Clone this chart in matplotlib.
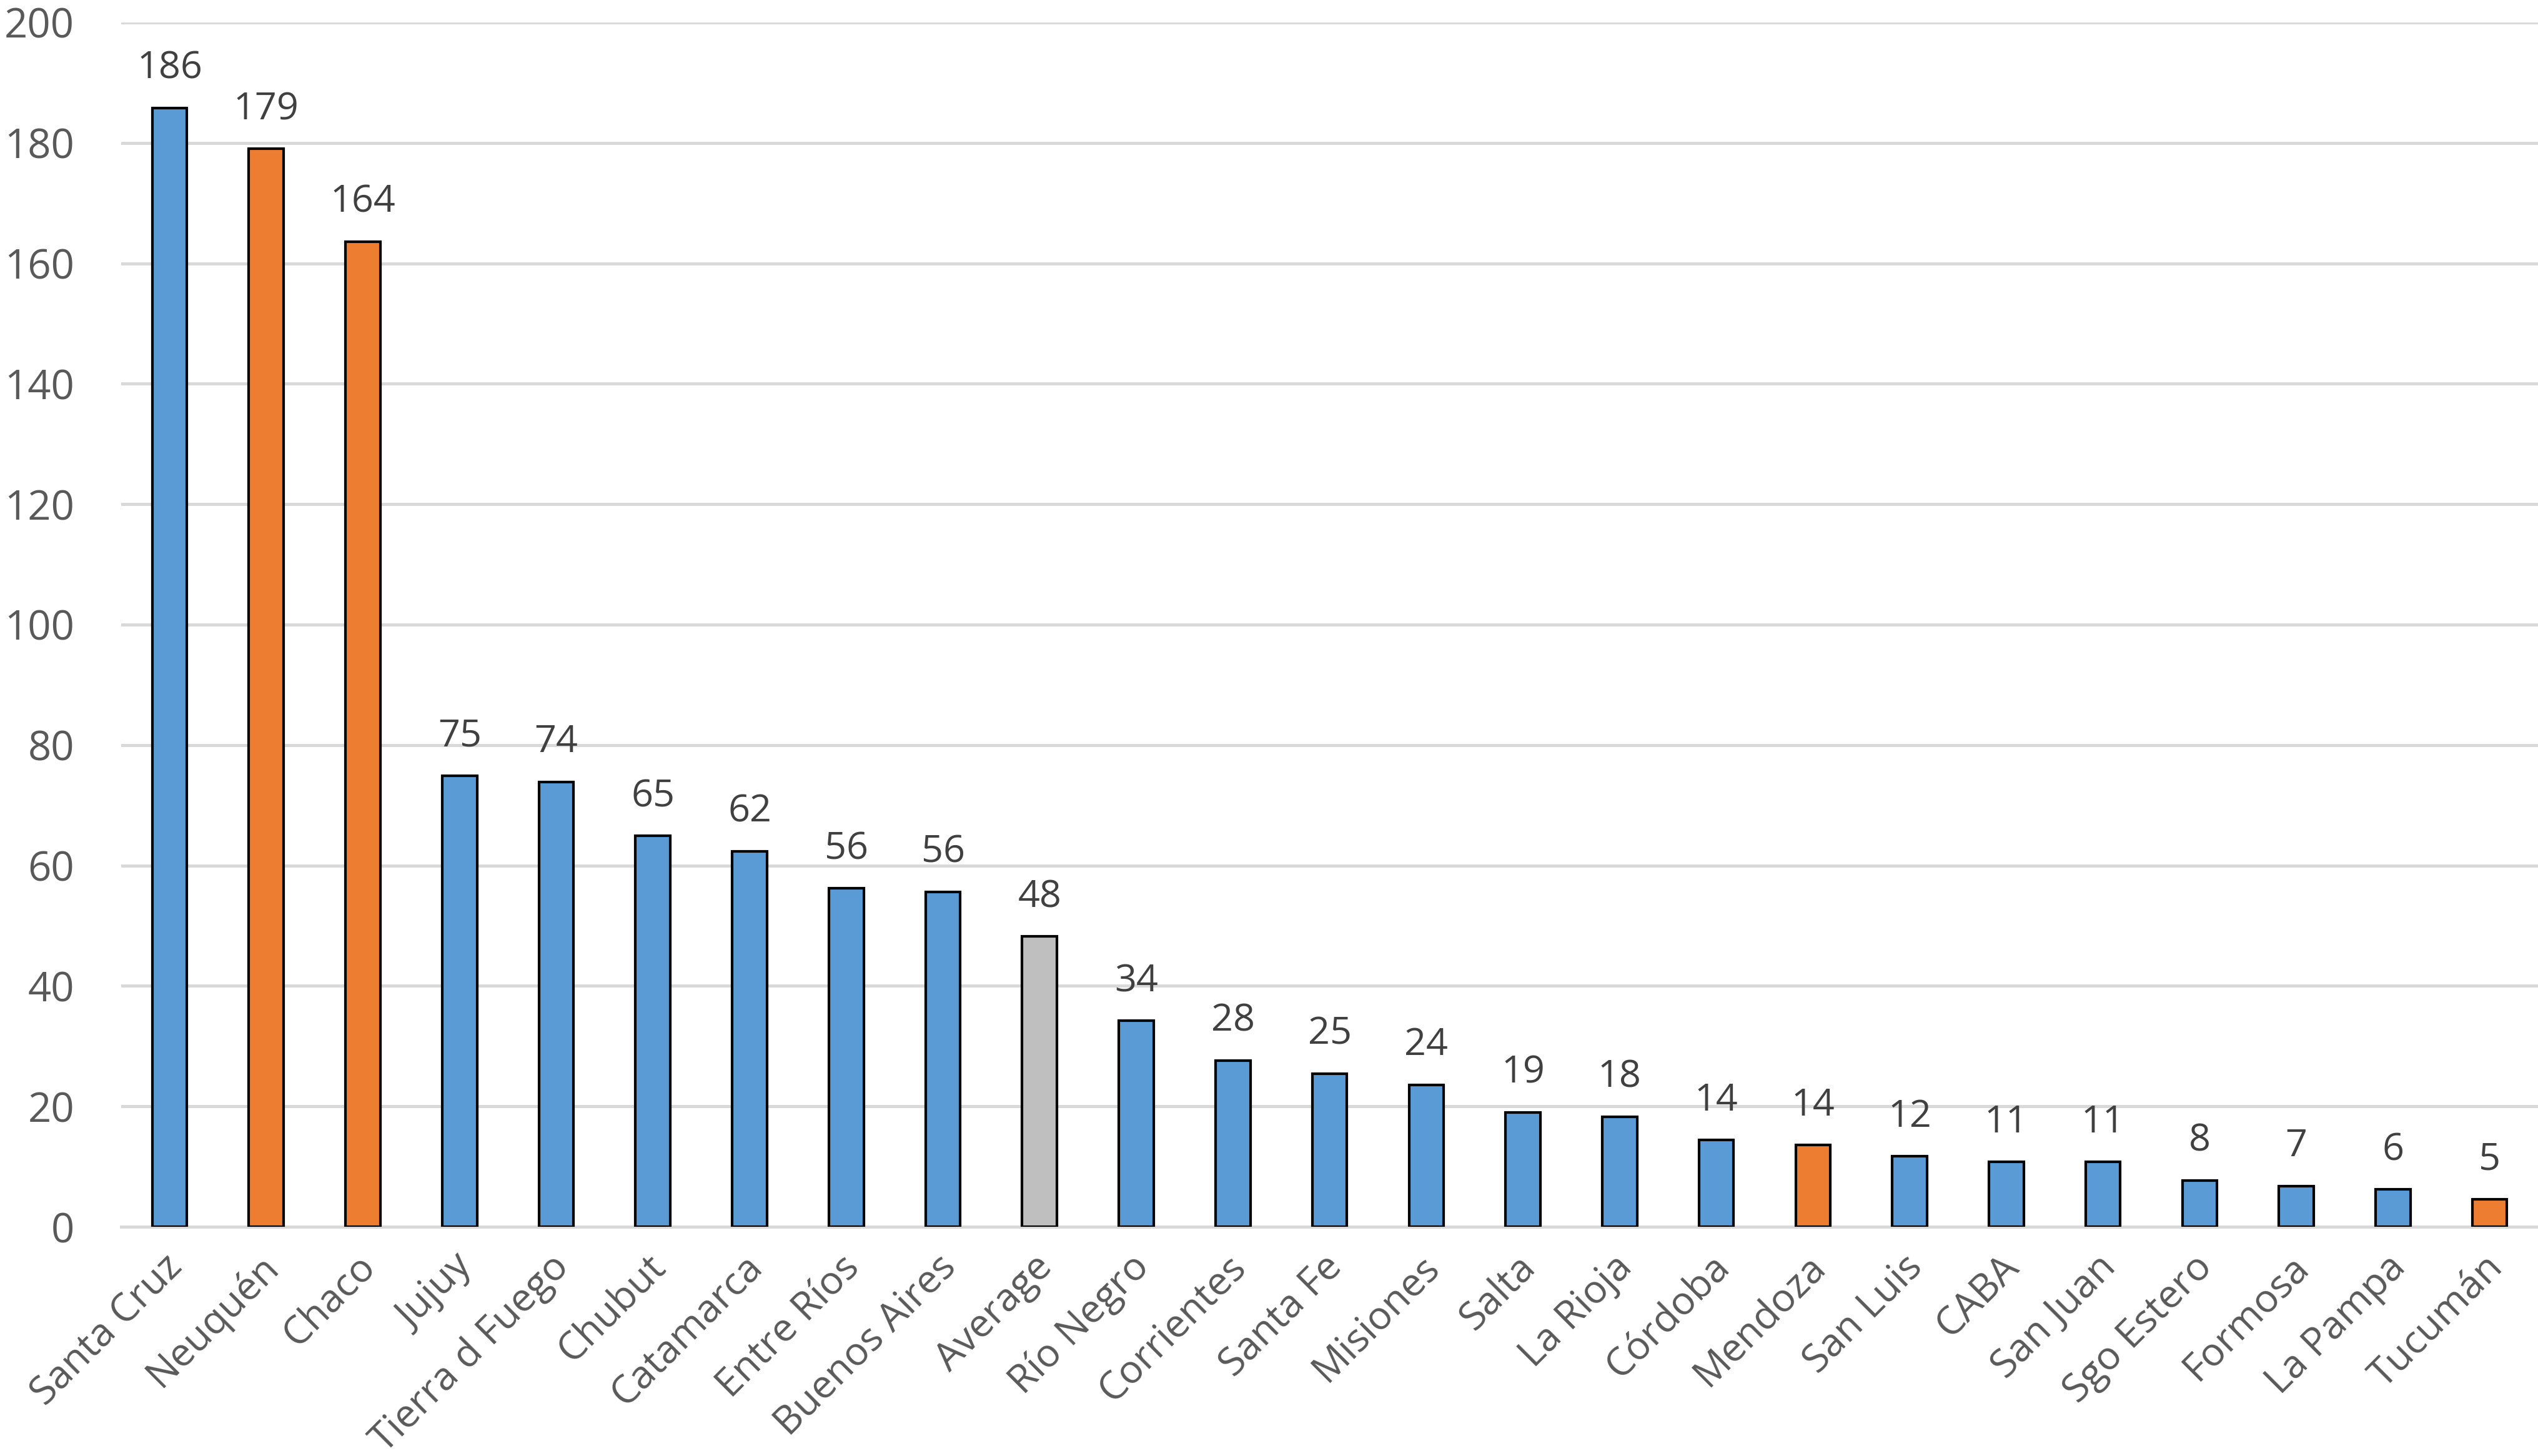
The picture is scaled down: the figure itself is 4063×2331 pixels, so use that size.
import matplotlib
matplotlib.use("Agg")
import matplotlib.pyplot as plt
import matplotlib.transforms as mtransforms
import numpy as np

provinces = ["Santa Cruz", "Neuquén", "Chaco", "Jujuy", "Tierra d Fuego", "Chubut",
             "Catamarca", "Entre Ríos", "Buenos Aires", "Average", "Río Negro",
             "Corrientes", "Santa Fe", "Misiones", "Salta", "La Rioja", "Córdoba",
             "Mendoza", "San Luis", "CABA", "San Juan", "Sgo Estero", "Formosa",
             "La Pampa", "Tucumán"]
values = [185.8, 179.0, 163.6, 74.9, 73.9, 64.9, 62.4, 56.2, 55.6, 48.2, 34.2,
          27.6, 25.4, 23.6, 19.0, 18.3, 14.4, 13.6, 11.7, 10.8, 10.8, 7.7, 6.8,
          6.2, 4.6]
# group of each bar: "b" blue, "o" orange, "g" average
groups = ["b", "o", "o", "b", "b", "b", "b", "b", "b", "g", "b", "b", "b", "b",
          "b", "b", "b", "o", "b", "b", "b", "b", "b", "b", "o"]
y_ticks = [0, 20, 40, 60, 80, 100, 120, 140, 160, 180, 200]

COLORS = {"b": "#5B9BD5", "o": "#ED7D31", "g": "#BFBFBF"}
plt.rcParams["font.family"] = ["Open Sans", "DejaVu Sans"]

fig = plt.figure(figsize=(20.315, 11.655), dpi=200)
ax = fig.add_axes([0.0478, 0.1574, 0.9522, 0.8272])

x = np.arange(len(provinces))
ax.bar(x, values, width=0.36, color=[COLORS[g] for g in groups],
       edgecolor="black", linewidth=1.5, zorder=3)

for xi, v in zip(x, values):
    ax.annotate(f"{v:.0f}", (xi, v), xytext=(0, 17), textcoords="offset points",
                ha="center", va="baseline", fontsize=22, color="#404040")

ax.set_xlim(-0.5, len(provinces) - 0.5)
ax.set_ylim(0, 200)
ax.set_yticks(y_ticks)
ax.set_yticklabels([str(t) for t in y_ticks], fontsize=23.5, color="#595959")
ax.grid(axis="y", color="#D9D9D9", linewidth=1.8, zorder=0)
ax.set_axisbelow(True)
for side in ["left", "right", "top"]:
    ax.spines[side].set_visible(False)
ax.spines["bottom"].set_color("#D9D9D9")
ax.spines["bottom"].set_linewidth(1.8)
ax.tick_params(axis="y", length=0, pad=27)
ax.tick_params(axis="x", length=0, pad=20)

ax.set_xticks(x)
ax.set_xticklabels(provinces, rotation=45, ha="right", va="center",
                   rotation_mode="anchor", fontsize=22.5, color="#595959")
shift = mtransforms.ScaledTranslation(4 / 72, 0, fig.dpi_scale_trans)
for lbl in ax.get_xticklabels():
    lbl.set_transform(lbl.get_transform() + shift)

fig.savefig("out.png", dpi=200)
